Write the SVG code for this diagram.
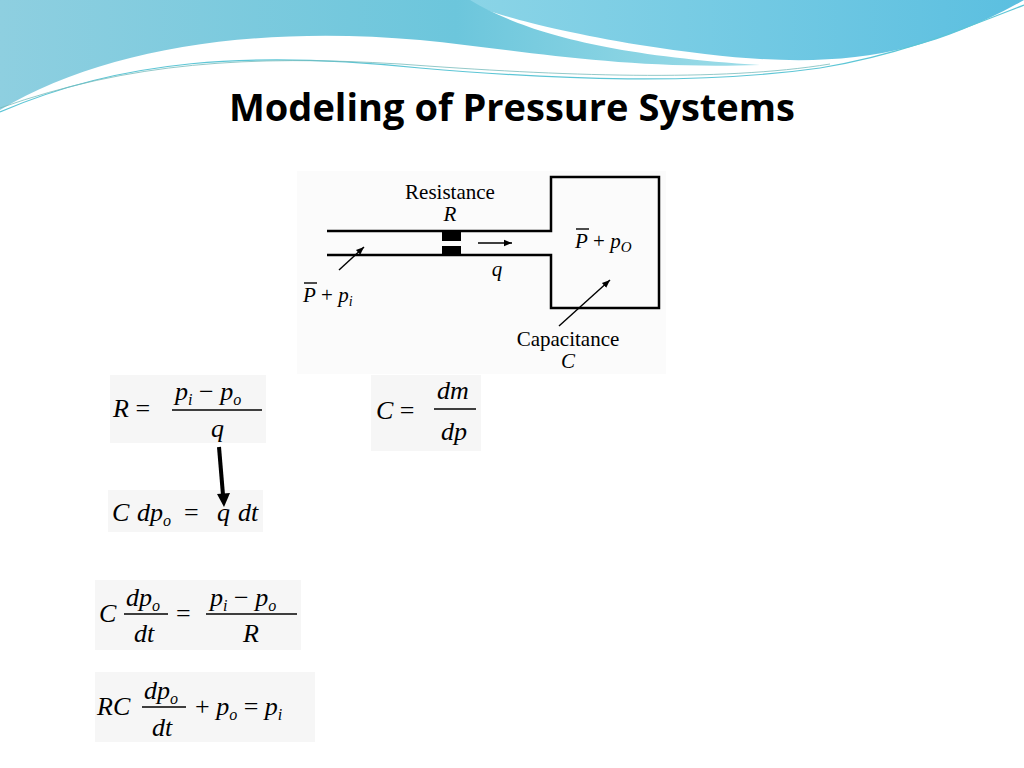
<svg xmlns="http://www.w3.org/2000/svg" width="1024" height="768" viewBox="0 0 1024 768">
<defs>
<linearGradient id="g1" x1="0" y1="0" x2="1" y2="0"><stop offset="0" stop-color="#8ecfe0"/><stop offset="0.6" stop-color="#6cc6dc"/><stop offset="1" stop-color="#9edde8"/></linearGradient>
<linearGradient id="g2" x1="0" y1="0" x2="1" y2="0"><stop offset="0" stop-color="#b3e6ec"/><stop offset="1" stop-color="#5bbfe0"/></linearGradient>
<marker id="ah" viewBox="0 0 10 10" refX="10" refY="5" markerWidth="8" markerHeight="8" orient="auto" markerUnits="userSpaceOnUse"><path d="M0,1 L10,5 L0,9 z" fill="#000"/></marker>
</defs>
<style>
.m{font-family:"Liberation Serif",serif;fill:#000}
.i{font-style:italic}
.eq{fill:#f6f6f6}
.ln{stroke:#000;stroke-width:2.5;fill:none}
.thin{stroke:#000;stroke-width:1.4;fill:none}
</style>
<rect width="1024" height="768" fill="#fff"/>
<g id="background">
<path d="M0,0 H1024 V0 C900,70 800,70 640,45 C520,25 470,5 460,0 Z" fill="url(#g2)"/>
<path d="M0,0 H470 C520,30 600,55 760,65 C620,70 520,50 420,40 C250,25 100,50 0,110 Z" fill="url(#g1)"/>
<path d="M0,112 C120,60 250,50 420,68 C560,80 700,85 820,68 C900,55 960,30 1024,5" stroke="#5dc6d6" stroke-width="1.2" fill="none"/>
<path d="M0,108 C130,62 250,55 400,64 C560,76 720,82 830,64" stroke="#7bb" stroke-width="0.8" fill="none"/>
</g>
<text x="512" y="121" text-anchor="middle" font-family="'Open Sans','Liberation Sans',sans-serif" font-weight="bold" font-size="38" fill="#000">Modeling of Pressure Systems</text>
<g id="schematic">
<rect x="297" y="171" width="369" height="203" fill="#fbfbfb"/>
<path class="ln" d="M327,231 H551 V177 H659 V308 H551 V255 H327"/>
<rect x="442" y="232" width="19" height="9" fill="#000"/>
<rect x="442" y="246" width="19" height="9" fill="#000"/>
<text x="450" y="199" text-anchor="middle" class="m" font-size="21">Resistance</text>
<text x="450" y="221" text-anchor="middle" class="m i" font-size="21">R</text>
<text x="497" y="276" text-anchor="middle" class="m i" font-size="21">q</text>
<text x="303" y="302" class="m" font-size="21"><tspan class="i">P</tspan> + <tspan class="i">p</tspan><tspan class="i" font-size="14" dy="4">i</tspan></text>
<line x1="304" y1="283" x2="317" y2="283" class="thin"/>
<text x="575" y="248" class="m" font-size="21"><tspan class="i">P</tspan> + <tspan class="i">p</tspan><tspan class="i" font-size="15" dy="4">O</tspan></text>
<line x1="576" y1="229" x2="589" y2="229" class="thin"/>
<text x="568" y="346" text-anchor="middle" class="m" font-size="21">Capacitance</text>
<text x="568" y="368" text-anchor="middle" class="m i" font-size="21">C</text>
</g>
<g id="eq1">
<rect x="110" y="375" width="156" height="68" class="eq"/>
<text x="113" y="417" class="m i" font-size="26">R <tspan font-style="normal">=</tspan></text>
<text x="175" y="400" class="m i" font-size="26">p<tspan font-size="16" dy="5">i</tspan><tspan dy="-5" font-style="normal"> − </tspan>p<tspan font-size="16" dy="5">o</tspan></text>
<line x1="172" y1="410" x2="262" y2="410" stroke="#000" stroke-width="1.5"/>
<text x="211" y="437" class="m i" font-size="26">q</text>
</g>
<g id="eq2">
<rect x="371" y="375" width="110" height="76" class="eq"/>
<text x="376" y="419" class="m i" font-size="26">C <tspan font-style="normal">=</tspan></text>
<text x="437" y="399" class="m i" font-size="26">dm</text>
<line x1="434" y1="409" x2="476" y2="409" stroke="#000" stroke-width="1.5"/>
<text x="441" y="440" class="m i" font-size="26">dp</text>
</g>
<g id="eq3">
<rect x="108" y="490" width="155" height="42" class="eq"/>
<text x="112" y="521" class="m i" font-size="26">C</text>
<text x="137" y="521" class="m i" font-size="26">dp<tspan font-size="16" dy="5">o</tspan></text>
<text x="184" y="521" class="m" font-size="26">=</text>
<text x="217" y="521" class="m i" font-size="26">q</text>
<text x="238" y="521" class="m i" font-size="26">dt</text>
</g>
<g id="eq4">
<rect x="95" y="580" width="206" height="70" class="eq"/>
<text x="99" y="622" class="m i" font-size="26">C</text>
<text x="126" y="606" class="m i" font-size="26">dp<tspan font-size="16" dy="5">o</tspan></text>
<line x1="124" y1="614" x2="168" y2="614" stroke="#000" stroke-width="1.5"/>
<text x="134" y="642" class="m i" font-size="26">dt</text>
<text x="176" y="622" class="m" font-size="26">=</text>
<text x="210" y="606" class="m i" font-size="26">p<tspan font-size="16" dy="5">i</tspan><tspan dy="-5" font-style="normal"> − </tspan>p<tspan font-size="16" dy="5">o</tspan></text>
<line x1="206" y1="614" x2="297" y2="614" stroke="#000" stroke-width="1.5"/>
<text x="243" y="642" class="m i" font-size="26">R</text>
</g>
<g id="eq5">
<rect x="95" y="672" width="220" height="70" class="eq"/>
<text x="97" y="715" class="m i" font-size="26">RC</text>
<text x="144" y="699" class="m i" font-size="26">dp<tspan font-size="16" dy="5">o</tspan></text>
<line x1="142" y1="707" x2="186" y2="707" stroke="#000" stroke-width="1.5"/>
<text x="152" y="736" class="m i" font-size="26">dt</text>
<text x="195" y="715" class="m" font-size="26">+ <tspan class="i">p</tspan><tspan class="i" font-size="16" dy="5">o</tspan><tspan dy="-5"> = </tspan><tspan class="i">p</tspan><tspan class="i" font-size="16" dy="5">i</tspan></text>
</g>
<g id="connectors">
<line x1="478" y1="243" x2="512" y2="243" class="thin" marker-end="url(#ah)"/>
<line x1="339" y1="270" x2="364" y2="247" class="thin" marker-end="url(#ah)"/>
<line x1="559" y1="326" x2="610" y2="280" class="thin" marker-end="url(#ah)"/>
<line x1="219" y1="447" x2="223" y2="495" stroke="#000" stroke-width="4"/>
<polygon points="217,494 230,493 224,507" fill="#000"/>
</g>
</svg>
